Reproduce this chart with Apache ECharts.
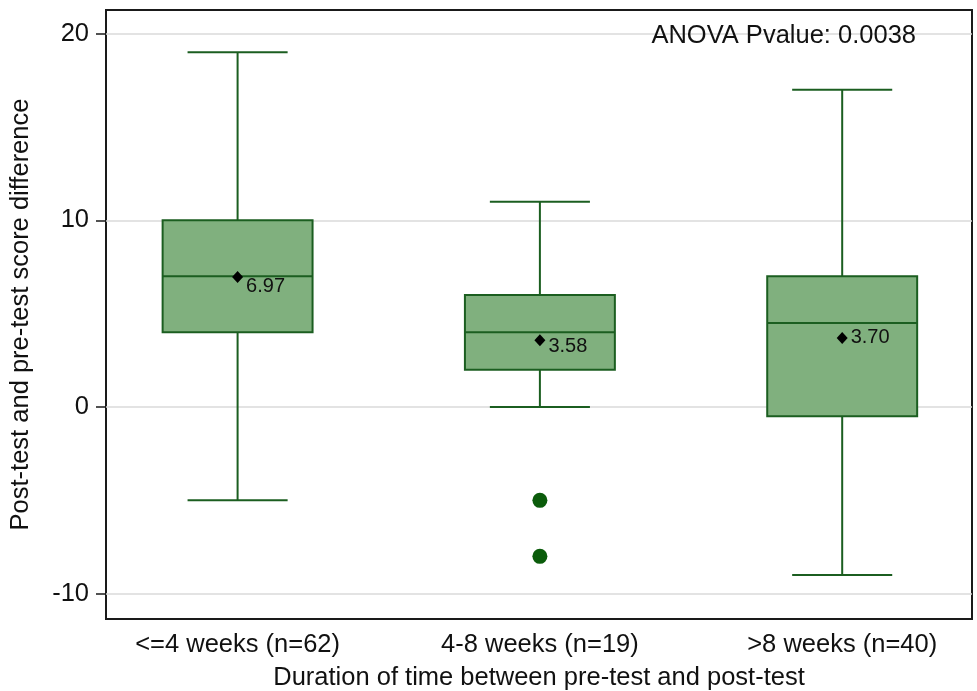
<!DOCTYPE html>
<html>
<head>
<meta charset="utf-8">
<title>Score difference by test interval</title>
<script src="https://cdn.jsdelivr.net/npm/echarts@6/dist/echarts.min.js"></script>
<style>
  html, body { margin: 0; padding: 0; background: #ffffff; }
  #chart { width: 977px; height: 691px; }
</style>
</head>
<body>
<div id="chart"></div>
<script>
// Groups and their five-number summaries
const categories = ['<=4 weeks (n=62)', '4-8 weeks (n=19)', '>8 weeks (n=40)'];
const lowerWhisker = [-5, 0, -9];
const lowerQuartile = [4, 2, -0.5];
const medianValues = [7, 4, 4.5];
const upperQuartile = [10, 6, 7];
const upperWhisker = [19, 11, 17];

// Group means (shown as diamonds with their values)
const meanValues = [6.97, 3.58, 3.70];

// Outside values: group position (1-based) and score
const outlierGroups = [2, 2];
const outlierValues = [-5, -8];

// Y ticks
const yTicks = [-10, 0, 10, 20];

const FONT = '"Liberation Sans", Arial, Helvetica, sans-serif';
const FILL = '#80b07e';
const EDGE = '#1b5e20';
const TEXT = '#111111';
const BIG = 25.5;
const BOX_W = 0.496;   // in axis units
const CAP_W = 0.331;

const boxData = categories.map((c, i) => [
  i + 1, lowerWhisker[i], lowerQuartile[i], medianValues[i], upperQuartile[i], upperWhisker[i]
]);

// Per-group placement of the mean labels
const meanLabelOffsets = [[0, 10], [0, 6], [0, 0]];
const meanData = meanValues.map((m, i) => ({
  value: [i + 1, m],
  label: { offset: meanLabelOffsets[i] }
}));

const outlierData = outlierGroups.map((g, i) => [g, outlierValues[i]]);

const chart = echarts.init(document.getElementById('chart'), null, { renderer: 'canvas' });

chart.setOption({
  animation: false,
  backgroundColor: '#ffffff',
  textStyle: { fontFamily: FONT },
  grid: {
    left: 106, right: 5, top: 10, bottom: 72,
    outerBoundsMode: 'none',
    containLabel: false,
    show: true, borderColor: '#1a1a1a', borderWidth: 2, backgroundColor: 'transparent'
  },
  xAxis: {
    type: 'value',
    min: 0.5647,
    max: 3.4294,
    name: 'Duration of time between pre-test and post-test',
    nameLocation: 'middle',
    nameGap: 46,
    nameTextStyle: { fontSize: BIG, color: TEXT, fontFamily: FONT },
    axisLine: { show: false },
    axisTick: { show: false, customValues: [1, 2, 3] },
    splitLine: { show: false },
    axisLabel: {
      customValues: [1, 2, 3],
      formatter: v => categories[Math.round(v) - 1] || '',
      fontSize: BIG, color: TEXT, fontFamily: FONT, margin: 13
    }
  },
  yAxis: {
    type: 'value',
    min: -11.355,
    max: 21.27,
    name: 'Post-test and pre-test score difference',
    nameLocation: 'middle',
    nameGap: 72,
    nameTextStyle: { fontSize: BIG, color: TEXT, fontFamily: FONT },
    axisLine: { show: false },
    axisTick: {
      show: true, customValues: yTicks, length: 10, inside: false,
      lineStyle: { color: '#1a1a1a', width: 1.5 }
    },
    axisLabel: {
      customValues: yTicks,
      fontSize: BIG, color: TEXT, fontFamily: FONT, margin: 17
    },
    splitLine: { show: true, lineStyle: { color: '#dadada', width: 1.5 } }
  },
  graphic: [{
    type: 'text',
    x: 916, y: 36,
    z: 10,
    style: {
      text: 'ANOVA Pvalue: 0.0038',
      font: BIG + 'px ' + FONT,
      fill: TEXT,
      align: 'right',
      verticalAlign: 'middle'
    }
  }],
  series: [
    {
      type: 'custom',
      name: 'box',
      data: boxData,
      encode: { x: 0, y: [1, 2, 3, 4, 5] },
      z: 3,
      renderItem(params, api) {
        const x = api.value(0);
        const lo = api.coord([x, api.value(1)]);
        const q1 = api.coord([x, api.value(2)]);
        const md = api.coord([x, api.value(3)]);
        const q3 = api.coord([x, api.value(4)]);
        const hi = api.coord([x, api.value(5)]);
        const hb = api.size([BOX_W, 0])[0] / 2;
        const hc = api.size([CAP_W, 0])[0] / 2;
        const ls = { stroke: EDGE, lineWidth: 2 };
        const cx = lo[0];
        return {
          type: 'group',
          children: [
            { type: 'line', shape: { x1: cx, y1: lo[1], x2: cx, y2: q1[1] }, style: ls },
            { type: 'line', shape: { x1: cx, y1: hi[1], x2: cx, y2: q3[1] }, style: ls },
            { type: 'line', shape: { x1: cx - hc, y1: lo[1], x2: cx + hc, y2: lo[1] }, style: ls },
            { type: 'line', shape: { x1: cx - hc, y1: hi[1], x2: cx + hc, y2: hi[1] }, style: ls },
            {
              type: 'rect',
              shape: { x: cx - hb, y: q3[1], width: 2 * hb, height: q1[1] - q3[1] },
              style: { fill: FILL, stroke: EDGE, lineWidth: 2 }
            },
            { type: 'line', shape: { x1: cx - hb, y1: md[1], x2: cx + hb, y2: md[1] }, style: ls }
          ]
        };
      }
    },
    {
      type: 'scatter',
      name: 'outliers',
      data: outlierData,
      symbol: 'circle',
      symbolSize: 15,
      itemStyle: { color: '#0b5c0b', opacity: 1 },
      z: 4
    },
    {
      type: 'scatter',
      name: 'means',
      data: meanData,
      symbol: 'diamond',
      symbolSize: [11, 12],
      itemStyle: { color: '#000000', opacity: 1 },
      z: 5,
      label: {
        show: true,
        position: 'right',
        distance: 3,
        formatter: p => p.value[1].toFixed(2),
        fontSize: 20,
        color: TEXT,
        fontFamily: FONT
      }
    }
  ]
});
</script>
</body>
</html>
